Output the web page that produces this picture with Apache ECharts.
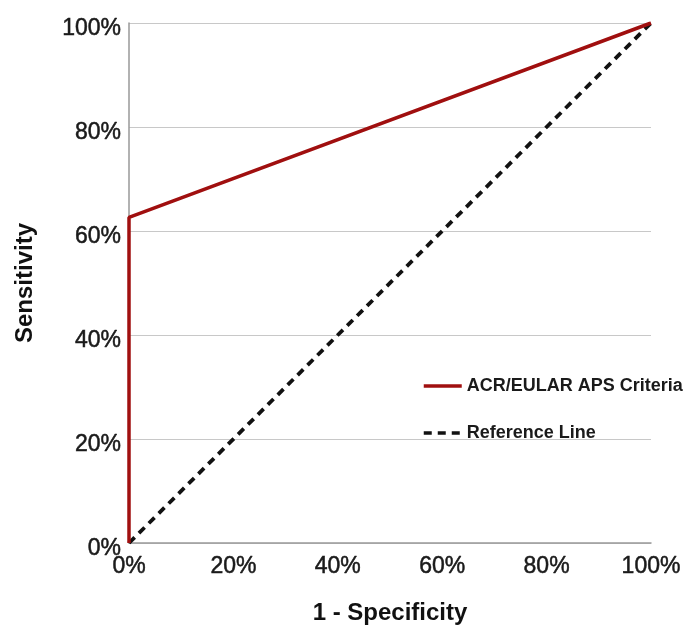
<!DOCTYPE html>
<html><head><meta charset="utf-8">
<script src="https://cdn.jsdelivr.net/npm/echarts@6/dist/echarts.min.js"></script>
<style>html,body{margin:0;padding:0;background:#fff}#c{width:686px;height:630px}</style>
</head><body><div id="c"></div>
<script>
const seriesNames = ['ACR/EULAR APS Criteria', 'Reference Line'];
const rocX = [0, 0, 100];
const rocY = [0, 62.6, 100];
const refX = [0, 100];
const refY = [0, 100];
const tickValues = [0, 20, 40, 60, 80, 100];
const xTitle = '1 - Specificity';
const yTitle = 'Sensitivity';

const chart = echarts.init(document.getElementById('c'));
const font = 'Liberation Sans, Arial, sans-serif';
const tickText = {fontFamily: font, fontSize: 23, color: '#1a1a1a', textBorderColor: '#1a1a1a', textBorderWidth: 0.5};
chart.setOption({
  animation: false,
  grid: {left: 129, right: 35, top: 23, bottom: 86},
  legend: {
    orient: 'vertical', left: 417, top: 372, itemGap: 29,
    itemWidth: 38, itemHeight: 14,
    itemStyle: {opacity: 0},
    lineStyle: {width: 3.5},
    textStyle: {fontFamily: font, fontSize: 18, fontWeight: 'bold', color: '#1a1a1a'},
    data: seriesNames
  },
  xAxis: {
    type: 'value', min: 0, max: 100, interval: 20,
    name: xTitle, nameLocation: 'middle', nameGap: 58,
    nameTextStyle: {fontFamily: font, fontSize: 24, fontWeight: 'bold', color: '#111'},
    axisLine: {show: true, lineStyle: {color: '#999', width: 1.5}},
    axisTick: {show: false},
    splitLine: {show: false},
    axisLabel: Object.assign({margin: 12, formatter: v => v + '%'}, tickText)
  },
  yAxis: {
    type: 'value', min: 0, max: 100, interval: 20,
    name: yTitle, nameLocation: 'middle', nameGap: 92,
    nameTextStyle: {fontFamily: font, fontSize: 24, fontWeight: 'bold', color: '#111'},
    axisLine: {show: true, lineStyle: {color: '#999', width: 1.5}},
    axisTick: {show: false},
    splitLine: {show: true, lineStyle: {color: '#c8c8c8', width: 1}},
    axisLabel: Object.assign({margin: 8, verticalAlign: 'top', lineHeight: 12, formatter: v => v + '%'}, tickText)
  },
  series: [
    {
      name: seriesNames[0], type: 'line', symbol: 'none',
      data: rocX.map((x, i) => [x, rocY[i]]),
      lineStyle: {color: '#a00f0f', width: 3.5}, itemStyle: {color: '#a00f0f'}, z: 3
    },
    {
      name: seriesNames[1], type: 'line', symbol: 'none',
      data: refX.map((x, i) => [x, refY[i]]),
      lineStyle: {color: '#111', width: 3.8, type: [8, 6]}, itemStyle: {color: '#111'}, z: 2
    }
  ]
});
</script></body></html>
